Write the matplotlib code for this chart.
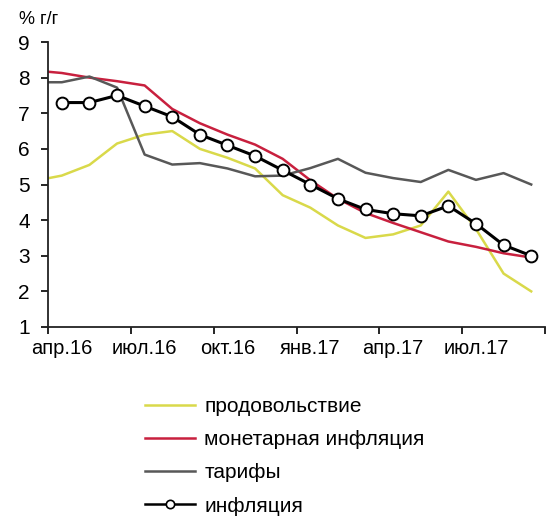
import numpy as np
import matplotlib
matplotlib.use('Agg')
import matplotlib.pyplot as plt
from matplotlib.lines import Line2D

plt.rcParams['font.family'] = ['Liberation Sans', 'DejaVu Sans']

months = ['апр.16', 'май.16', 'июн.16', 'июл.16', 'авг.16', 'сен.16',
          'окт.16', 'ноя.16', 'дек.16', 'янв.17', 'фев.17', 'мар.17',
          'апр.17', 'май.17', 'июн.17', 'июл.17', 'авг.17', 'сен.17']

# the three component series start one month earlier (мар.16), clipped at the axis
food = [5.1, 5.25, 5.55, 6.15, 6.4, 6.5, 6.0, 5.75, 5.45, 4.7, 4.35, 3.85,
        3.5, 3.6, 3.85, 4.8, 3.75, 2.5, 2.0]
monetary = [8.2, 8.13, 8.0, 7.9, 7.78, 7.12, 6.72, 6.4, 6.12, 5.72, 5.12,
            4.6, 4.2, 3.92, 3.66, 3.4, 3.25, 3.07, 2.95]
tariffs = [7.87, 7.87, 8.03, 7.72, 5.84, 5.56, 5.6, 5.45, 5.23, 5.25, 5.46,
           5.72, 5.33, 5.18, 5.07, 5.41, 5.13, 5.32, 5.0]
inflation = [7.3, 7.3, 7.5, 7.2, 6.9, 6.4, 6.1, 5.8, 5.4, 5.0, 4.6, 4.3,
             4.18, 4.12, 4.4, 3.9, 3.3, 3.0]

colors = ['#d9d94a', '#c8203e', '#585858', 'black']
labels = ['продовольствие', 'монетарная инфляция', 'тарифы', 'инфляция']

fig = plt.figure(figsize=(5.52, 5.23), dpi=100)
ax = fig.add_axes([48 / 552, 1 - 327 / 523, 497 / 552, 285 / 523])

x_comp = np.arange(-1, len(months))
x_infl = np.arange(len(months))

ax.plot(x_comp, food, color=colors[0], lw=1.8)
ax.plot(x_comp, monetary, color=colors[1], lw=1.8)
ax.plot(x_comp, tariffs, color=colors[2], lw=1.8)
ax.plot(x_infl, inflation, color=colors[3], lw=2.2, marker='o', markersize=8.5,
        markerfacecolor='white', markeredgecolor='black', markeredgewidth=1.4)

ax.set_xlim(-0.5, len(months) - 0.5)
ax.set_ylim(1, 9)
ax.set_yticks(range(1, 10))

ax.set_xticks(np.arange(-0.5, len(months), 3))
ax.set_xticklabels([])
ax.set_xticks(np.arange(0, len(months), 3), minor=True)
ax.set_xticklabels(months[::3], minor=True)
ax.tick_params(axis='x', which='minor', length=0, pad=9, labelsize=14.5)
ax.tick_params(axis='x', which='major', length=5, width=1.2, direction='out')
ax.tick_params(axis='y', length=5, width=1.2, direction='out', pad=8, labelsize=15)

for side in ['top', 'right']:
    ax.spines[side].set_visible(False)
for side in ['left', 'bottom']:
    ax.spines[side].set_linewidth(1.3)
    ax.spines[side].set_color('#222222')

fig.text(19 / 552, 1 - 19 / 523, '% г/г', fontsize=13, va='center', ha='left')

handles = [Line2D([], [], color=c, lw=1.8) for c in colors[:3]]
handles.append(Line2D([], [], color='black', lw=1.8, marker='o', markersize=6,
                      markerfacecolor='white', markeredgecolor='black',
                      markeredgewidth=1.2))
fig.legend(handles, labels, loc='upper left', bbox_to_anchor=(145 / 552, 1 - 397 / 523),
           frameon=False, fontsize=15, handlelength=2.4, handletextpad=0.45,
           labelspacing=0.68, borderaxespad=0, borderpad=0)

fig.savefig('out.png', dpi=100)
